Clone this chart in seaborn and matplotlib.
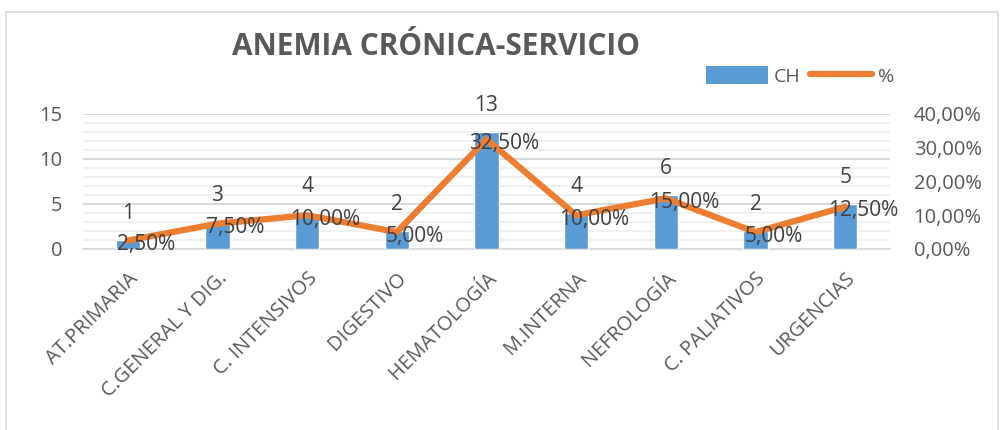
import numpy as np
import pandas as pd
import matplotlib.pyplot as plt
import seaborn as sns
from matplotlib.patches import Patch, Rectangle
from matplotlib.lines import Line2D
from matplotlib.ticker import MultipleLocator, FuncFormatter

# Data
servicios = ['AT.PRIMARIA', 'C.GENERAL Y DIG.', 'C. INTENSIVOS', 'DIGESTIVO',
             'HEMATOLOGÍA', 'M.INTERNA', 'NEFROLOGÍA', 'C. PALIATIVOS', 'URGENCIAS']
ch = [1, 3, 4, 2, 13, 4, 6, 2, 5]
pct = [2.5, 7.5, 10.0, 5.0, 32.5, 10.0, 15.0, 5.0, 12.5]

BLUE = '#5B9BD5'
ORANGE = '#ED7D31'
TXT = '#595959'
LBL = '#404040'

sns.set_theme(style='white')
plt.rcParams['font.family'] = ['Open Sans', 'DejaVu Sans']

df = pd.DataFrame({'servicio': servicios, 'ch': ch, 'pct': pct})
df['pos'] = np.arange(len(df))

fig = plt.figure(figsize=(10, 4.3), dpi=100)
fig.patches.append(Rectangle((0.006, -0.01), 0.992, 0.982, transform=fig.transFigure,
                             fill=False, edgecolor='#D9D9D9', linewidth=1.2))
ax = fig.add_axes([0.083, 0.421, 0.807, 0.314])

sns.barplot(data=df, x='servicio', y='ch', color=BLUE, width=0.27,
            saturation=1, ax=ax, zorder=3)
ax.set_ylim(0, 15)
ax.set_xlim(-0.5, len(df) - 0.5)
ax.yaxis.set_major_locator(MultipleLocator(5))
ax.yaxis.set_minor_locator(MultipleLocator(1))
ax.grid(axis='y', which='major', color='#D9D9D9', linewidth=1.5, zorder=0)
ax.grid(axis='y', which='minor', color='#F0F0F0', linewidth=1.5, zorder=0)
ax.set_axisbelow(True)
for s in ['top', 'right', 'left']:
    ax.spines[s].set_visible(False)
ax.spines['bottom'].set_color('#D9D9D9')
ax.spines['bottom'].set_linewidth(1.2)
ax.set_xlabel('')
ax.set_ylabel('')
ax.tick_params(axis='y', which='both', length=0, pad=15, labelsize=14.5, labelcolor=TXT)
# category boundary ticks
ax.set_xticks(np.arange(len(df)))
ax.set_xticklabels(servicios, rotation=45, ha='right', rotation_mode='anchor',
                   fontsize=14.5, color=TXT)
ax.tick_params(axis='x', which='major', length=0, pad=14)
ax.set_xticks(np.arange(len(df) + 1) - 0.5, minor=True)
ax.tick_params(axis='x', which='minor', length=6, width=1.2, color='#D9D9D9', direction='out')

for i, v in enumerate(ch):
    ax.annotate(str(v), (i, v), xytext=(0, 19), textcoords='offset points',
                ha='center', va='center', fontsize=15, color=LBL, zorder=6)

ax2 = ax.twinx()
sns.lineplot(data=df, x='pos', y='pct', color=ORANGE, linewidth=4.5, ax=ax2,
             sort=False, zorder=4)
ax2.lines[0].set_solid_capstyle('round')
ax2.lines[0].set_solid_joinstyle('round')
ax2.set_ylim(0, 40)
ax2.set_xlim(-0.5, len(df) - 0.5)
ax2.yaxis.set_major_locator(MultipleLocator(10))
ax2.yaxis.set_major_formatter(FuncFormatter(lambda v, p: f'{v:.2f}%'.replace('.', ',')))
ax2.tick_params(axis='y', length=0, pad=17, labelsize=14.5, labelcolor=TXT)
ax2.set_ylabel('')
ax2.set_xlabel('')
for s in ax2.spines.values():
    s.set_visible(False)
ax2.grid(False)

for i, v in enumerate(pct):
    ax2.annotate(f'{v:.2f}%'.replace('.', ','), (i, v), xytext=(13, -3),
                 textcoords='offset points', ha='center', va='center',
                 fontsize=15, color=LBL, zorder=6)

fig.text(0.436, 0.89, 'ANEMIA CRÓNICA-SERVICIO', ha='center', va='center',
         fontsize=21.5, fontweight='bold', color=TXT)

handles = [Patch(facecolor=BLUE, edgecolor='none'),
           Line2D([0], [0], color=ORANGE, linewidth=4.5, solid_capstyle='round')]
fig.legend(handles, ['CH', '%'], loc='center', bbox_to_anchor=(0.80, 0.823), ncol=2,
           frameon=False, fontsize=14, handlelength=3.2, handleheight=1.0,
           columnspacing=0.5, handletextpad=0.3, labelcolor=TXT)

fig.savefig('out.png', dpi=100)
